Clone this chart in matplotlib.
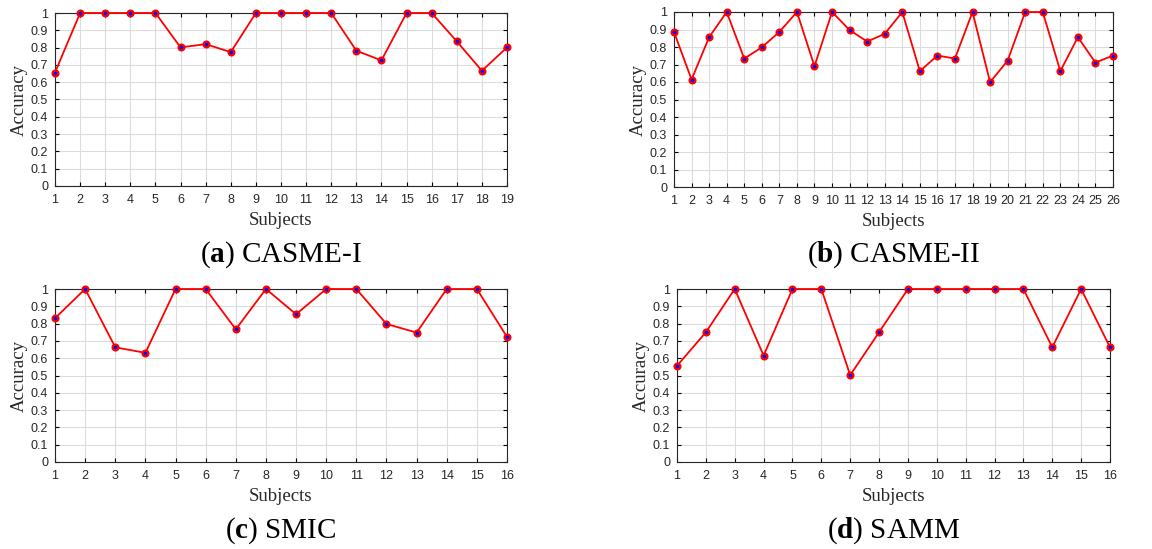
import matplotlib
matplotlib.use("Agg")
import matplotlib.pyplot as plt

plt.rcParams["mathtext.fontset"] = "custom"
plt.rcParams["mathtext.rm"] = "Liberation Serif"
plt.rcParams["mathtext.bf"] = "Liberation Serif:bold"

# per-subject accuracy
casme1 = [0.656, 1, 1, 1, 1, 0.801, 0.820, 0.774, 1, 1, 1, 1,
          0.782, 0.726, 1, 1, 0.836, 0.666, 0.801]
casme2 = [0.886, 0.614, 0.856, 1, 0.734, 0.798, 0.886, 1, 0.690, 1,
          0.897, 0.831, 0.875, 1, 0.662, 0.751, 0.734, 1, 0.599, 0.722,
          1, 1, 0.662, 0.856, 0.711, 0.751]
smic = [0.831, 1, 0.663, 0.631, 1, 1, 0.767, 1, 0.854, 1, 1,
        0.798, 0.748, 1, 1, 0.723]
samm = [0.556, 0.75, 1, 0.615, 1, 1, 0.502, 0.75, 1, 1, 1, 1,
        1, 0.663, 1, 0.663]

letters = ["a", "b", "c", "d"]
names = ["CASME-I", "CASME-II", "SMIC", "SAMM"]
series = [casme1, casme2, smic, samm]

W, H = 1152, 549
# axes boxes in pixels: left, top, right, bottom
boxes = [(55, 13, 507, 186), (674, 12, 1113, 187),
         (55, 289, 507, 462), (677, 289, 1110, 462)]
caption_y = [255, 531]

fig = plt.figure(figsize=(W / 100, H / 100), dpi=100)

for i, (vals, box) in enumerate(zip(series, boxes)):
    l, t, r, b = box
    ax = fig.add_axes([l / W, 1 - b / H, (r - l) / W, (b - t) / H])
    xs = list(range(1, len(vals) + 1))
    ax.plot(xs, vals, color="red", lw=1.3, marker="o", markersize=4.2,
            markerfacecolor="blue", markeredgecolor="red", markeredgewidth=1.6,
            zorder=3, clip_on=False)
    ax.set_xlim(1, len(vals))
    ax.set_ylim(0, 1)
    ax.set_xticks(xs)
    ax.set_yticks([k / 10 for k in range(11)])
    ax.set_yticklabels(["0"] + [f"{k / 10:.1f}" for k in range(1, 10)] + ["1"])
    ax.grid(True, color="#dcdcdc", lw=0.8)
    ax.tick_params(direction="in", top=True, right=True, length=3,
                   labelsize=9, labelcolor="#262626")
    ax.tick_params(axis="x", pad=6)
    ax.tick_params(axis="y", pad=5)
    for lab in ax.get_xticklabels() + ax.get_yticklabels():
        lab.set_family("Liberation Sans")
    for sp in ax.spines.values():
        sp.set_linewidth(0.8)
        sp.set_color("#262626")
    ax.set_xlabel("Subjects", family="Liberation Serif", fontsize=13.5,
                  color="#262626", labelpad=4)
    ax.set_ylabel("Accuracy", family="Liberation Serif", fontsize=13.5,
                  color="#262626", labelpad=2)

    cx = (l + r) / 2 / W
    cy = 1 - caption_y[i // 2] / H
    fig.text(cx, cy, r"($\mathbf{" + letters[i] + r"}$) " + names[i],
             ha="center", va="center", fontsize=21, family="Liberation Serif")

fig.savefig("out.png", dpi=100)
